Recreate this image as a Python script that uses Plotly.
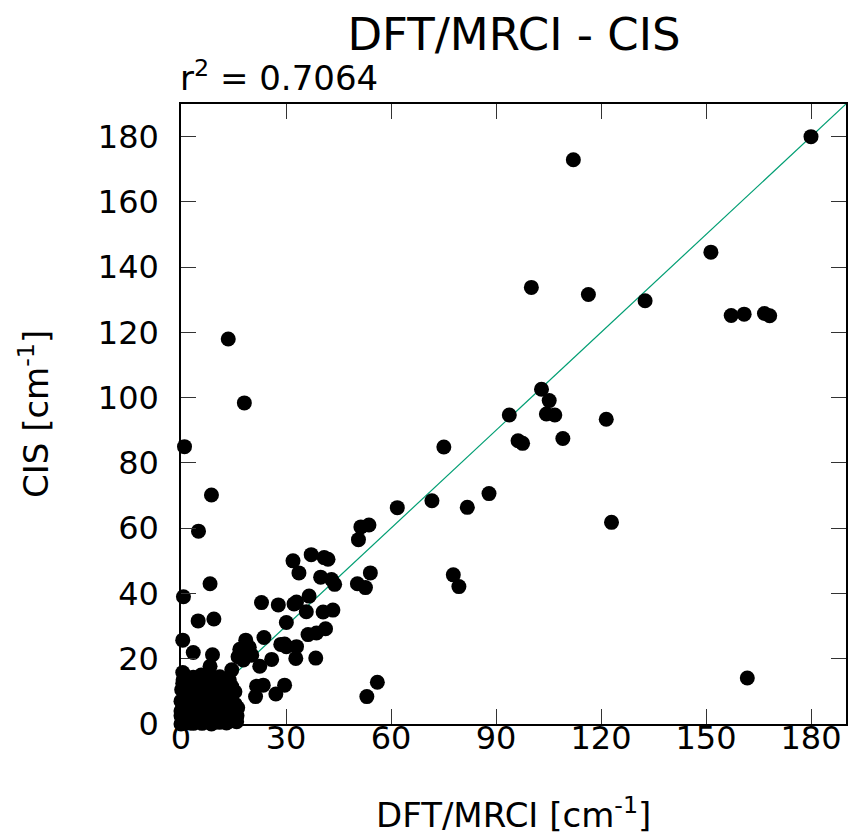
import plotly.graph_objects as go

# DFT/MRCI values (x) and CIS values (y), in cm^-1
dft_mrci = [
    180, 112.1, 151.4, 100.1, 116.4, 132.6, 157.2, 160.9, 166.7, 168.2,
    103.0, 105.2, 104.4, 106.8, 93.8, 121.5, 96.3, 97.6, 109.1, 75.1,
    71.7, 81.8, 88.0, 123.0, 77.8, 79.4, 161.8, 61.8,
    51.4, 53.7, 50.7, 54.1, 50.4, 52.7, 56.1, 53.1,
    32.0, 37.2, 40.9, 42.0, 33.7, 39.9, 43.0, 43.9,
    36.6, 33.0, 32.3, 27.8, 23.0, 35.8, 40.6, 43.4, 30.1,
    36.3, 38.7, 41.3, 29.6, 33.0, 32.8, 38.5,
    28.5, 30.1, 23.7, 18.5, 16.8, 19.5, 20.2, 16.3, 17.8, 22.5, 25.9,
    8.3, 14.5, 3.5, 9.0, 21.6, 23.5, 29.6, 21.3, 27.1,
    13.5, 18.1, 1.0, 8.7, 5.0, 0.7, 8.3, 4.9, 9.4, 0.5,
    0.0, 0.3, 0.8, 1.5, 2.5, 3.0, 4.0, 5.0, 6.0, 7.0, 8.7, 9.5, 11.0, 12.5, 13.0, 15.9,
    0.0, 1.0, 2.0, 3.5, 5.0, 6.5, 8.0, 10.0, 11.5, 13.0, 14.0,
    0.5, 1.5, 3.0, 4.5, 6.0, 7.5, 9.0, 10.5, 12.0, 13.5,
    0.0, 2.0, 3.5, 5.0, 7.0, 8.5, 10.0, 11.5, 13.0, 14.5,
    2.1, 1.0, 4.0, 6.0, 8.0, 11.0, 12.5, 15.4,
    0.5, 3.0, 5.5, 7.0, 10.0, 12.1, 11.1, 7.3, 3.5, 0.5, 0.6, 9.7,
    1.0, 2.0, 3.5, 4.8, 6.8, 9.0, 10.5, 12.0, 14.5, 16.0,
    1.2, 2.5, 4.0, 5.5, 7.0, 8.5, 10.0, 11.0, 12.8, 14.5, 15.5,
    1.0, 3.0, 7.0, 12.0, 13.5, 14.5, 9.0, 2.0, 4.5, 6.0, 1.8, 8.5,
    0.2, 0.0, 0.4, 5.8, 13.8, 16.2,
]
cis = [
    180, 172.9, 144.6, 133.8, 131.6, 129.7, 125.2, 125.6, 125.8, 125.1,
    102.6, 99.1, 95.0, 94.7, 94.7, 93.4, 86.8, 86.0, 87.5, 84.9,
    68.4, 66.4, 70.6, 61.8, 45.7, 42.1, 14.1, 66.3,
    60.4, 61.0, 56.5, 46.3, 43.0, 41.8, 12.8, 8.4,
    50.0, 51.9, 51.0, 50.5, 46.3, 45.0, 44.3, 42.8,
    39.2, 37.4, 36.8, 36.5, 37.2, 34.4, 34.3, 34.9, 31.1,
    27.4, 27.9, 29.2, 24.5, 23.7, 20.1, 20.2,
    24.4, 23.7, 26.5, 25.7, 22.9, 23.5, 21.1, 20.6, 19.6, 17.7, 19.8,
    17.7, 16.6, 21.9, 21.2, 11.6, 11.9, 11.9, 8.4, 9.2,
    118.0, 98.4, 85.0, 70.2, 59.1, 39.0, 43.0, 31.6, 32.2, 25.7,
    0.0, 0.5, 0.2, 1.0, 0.3, 1.5, 0.5, 1.0, 0.2, 1.2, 0.0, 1.5, 0.5, 1.0, 0.3, 0.7,
    2.5, 3.0, 2.0, 3.0, 2.5, 3.5, 2.5, 3.0, 2.0, 3.5, 2.0,
    5.0, 4.5, 5.5, 4.5, 5.0, 6.0, 5.0, 5.5, 4.5, 6.0,
    7.0, 7.5, 7.0, 8.0, 7.0, 8.0, 7.5, 8.0, 7.0, 8.5,
    8.9, 10.0, 10.5, 9.5, 11.0, 10.0, 11.0, 9.9,
    12.5, 12.0, 12.5, 13.0, 12.5, 12.9, 14.5, 14.0, 14.3, 15.8, 13.5, 13.8,
    0.8, 1.8, 0.2, 2.0, 2.2, 2.2, 1.0, 2.8, 1.0, 2.5,
    6.0, 4.0, 6.5, 6.2, 4.5, 4.0, 4.5, 6.5, 5.0, 4.5, 6.0,
    8.5, 9.0, 9.0, 9.0, 9.5, 11.5, 12.0, 11.0, 13.5, 11.0, 13.0, 14.8,
    10.5, 4.0, 2.0, 15.0, 13.5, 5.0,
]

# y = x reference line
ref_x = [0, 190]
ref_y = [0, 190]

axis_range = [0, 190]
tick_vals_x = [0, 30, 60, 90, 120, 150, 180]
tick_vals_y = [0, 20, 40, 60, 80, 100, 120, 140, 160, 180]

title_text = "DFT/MRCI - CIS"
r2_text = "r<sup>2</sup> = 0.7064"
x_title = "DFT/MRCI [cm<sup>-1</sup>]"
y_title = "CIS [cm<sup>-1</sup>]"

FONT = "DejaVu Sans"

fig = go.Figure()
fig.add_trace(go.Scatter(
    x=ref_x, y=ref_y, mode="lines",
    line=dict(color="#009E73", width=1.2),
    hoverinfo="skip", showlegend=False,
))
fig.add_trace(go.Scatter(
    x=dft_mrci, y=cis, mode="markers",
    marker=dict(color="black", size=15, line=dict(width=0)),
    cliponaxis=False, showlegend=False,
))

axis_common = dict(
    range=axis_range, showgrid=False, zeroline=False,
    showline=True, linecolor="black", linewidth=1.5, mirror="ticks",
    ticks="inside", ticklen=15, tickwidth=1, tickcolor="#333333",
    tickfont=dict(family=FONT, size=32, color="black"),
)
fig.update_xaxes(tickvals=tick_vals_x, ticklabelstandoff=-15, **axis_common)
fig.update_yaxes(tickvals=tick_vals_y, ticklabelstandoff=14, **axis_common)

fig.update_layout(
    width=854, height=834,
    margin=dict(l=181, r=6, t=104, b=110),
    paper_bgcolor="white", plot_bgcolor="white",
    font=dict(family=FONT, color="black"),
    title=dict(text=title_text, x=514 / 854, xanchor="center",
               yref="container", y=1 - 34 / 834, yanchor="middle",
               font=dict(family=FONT, size=45, color="black")),
    annotations=[
        dict(text=r2_text, xref="paper", yref="paper", x=0, y=1,
             xanchor="left", yanchor="bottom", yshift=4, xshift=-3,
             showarrow=False,
             font=dict(family=FONT, size=34, color="black")),
        dict(text=x_title, xref="paper", yref="paper", x=0.5, y=0,
             xanchor="center", yanchor="middle", yshift=-89, showarrow=False,
             font=dict(family=FONT, size=34, color="black")),
        dict(text=y_title, xref="paper", yref="paper", x=0, y=0.5,
             xanchor="center", yanchor="middle", xshift=-147, textangle=-90,
             showarrow=False,
             font=dict(family=FONT, size=34, color="black")),
    ],
)

fig.write_html(
    "out.html",
    config={"displayModeBar": False},
    post_script="document.body.style.margin='0';document.body.style.overflow='hidden';",
)
